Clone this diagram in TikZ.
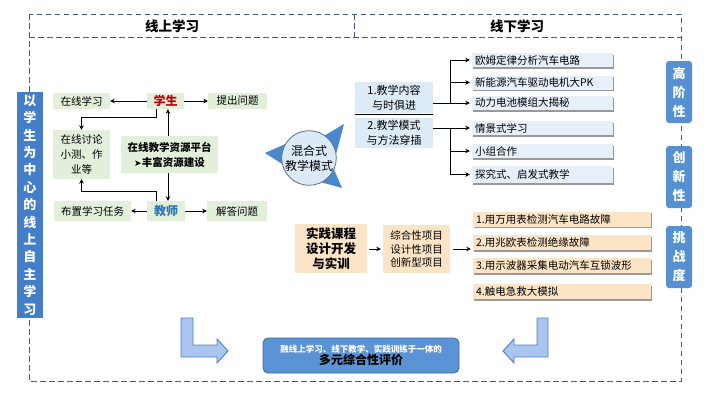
\documentclass[tikz,border=0pt]{standalone}
\usepackage{fontspec}
\setmainfont{Noto Sans CJK SC}
\newfontfamily\djv{DejaVu Sans}
\usetikzlibrary{calc,shadows,backgrounds,arrows.meta}
\definecolor{xuxian}{HTML}{3F5E82}
\definecolor{lvse}{HTML}{E2EFDA}
\definecolor{hong}{HTML}{C00000}
\definecolor{lanzi}{HTML}{2E75B6}
\definecolor{lanqian}{HTML}{E7EFF9}
\definecolor{lanfang}{HTML}{DDEBF7}
\definecolor{cheng}{HTML}{FCE4C6}
\definecolor{shenlan}{HTML}{447DC8}
\definecolor{celan}{HTML}{5690D0}
\definecolor{yuanse}{HTML}{DCEAF7}
\definecolor{yuanbian}{HTML}{5B6F8A}
\definecolor{jian}{HTML}{4A88CC}
\definecolor{pjse}{HTML}{5B94D5}
\definecolor{pjbian}{HTML}{3D6B9E}
\definecolor{wanjian}{HTML}{AAC5EE}
\definecolor{wanbian}{HTML}{4F7FC0}
\tikzset{
  kuang/.style={dash pattern=on 5.5pt off 3.5pt, draw=xuxian, line width=1pt},
  jt/.style={-{Stealth[length=4.5pt,width=4.5pt]}, line width=0.9pt},
  lvkuang/.style={fill=lvse, inner sep=0pt, align=center, font=\fontsize{10.5}{15}\selectfont},
  lanfang/.style={fill=lanfang, inner sep=0pt, minimum width=78, align=center, font=\fontsize{11}{15}\selectfont},
  liebiao/.style={fill=lanqian, inner xsep=3pt, inner ysep=0pt, text width=135, minimum height=14, align=left,
    font=\fontsize{10.5}{13}\selectfont, drop shadow={shadow xshift=1pt, shadow yshift=-1.6pt, fill=black!40, opacity=1}},
  chengbiao/.style={liebiao, fill=cheng, text width=172, minimum height=15},
  cekuang/.style={fill=celan, rounded corners=3pt, minimum width=26, minimum height=62, inner sep=0pt,
    text width=16, align=center, text=white, font=\fontsize{13}{19}\selectfont\bfseries},
  wanjt/.style={fill=wanjian, draw=wanbian, line width=0.9pt, line join=miter}
}
\begin{document}
\begin{tikzpicture}[x=1pt,y=-1pt]
\useasboundingbox (0,0) rectangle (720,402);
% frame
\draw[kuang] (29,14) rectangle (681,381);
\draw[kuang] (29,37) -- (681,37);
\draw[kuang] (354,14) -- (354,37);
\node[font=\fontsize{13.5}{16}\selectfont\bfseries] at (172,26) {线上学习};
\node[font=\fontsize{13.5}{16}\selectfont\bfseries] at (517,26) {线下学习};

% side bars
\node[fill=shenlan, minimum width=26, minimum height=226, inner sep=0pt, text width=16, align=center,
  text=white, font=\fontsize{13}{17.4}\selectfont\bfseries] (zz) at (30,205)
  {以\\学\\生\\为\\中\\心\\的\\线\\上\\自\\主\\学\\习};
\node[cekuang] (gjx) at (679,92) {高\\阶\\性};
\node[cekuang] (cxx) at (679,177) {创\\新\\性};
\node[cekuang] (tzd) at (679,257) {挑\\战\\度};

% online part
\node[lvkuang, minimum width=57, minimum height=16] (zxxx) at (81.5,101) {在线学习};
\node[lvkuang, minimum width=37, minimum height=16, text=hong, font=\fontsize{12}{14}\selectfont\bfseries] (xs) at (165.5,101) {学生};
\node[lvkuang, minimum width=59, minimum height=16] (tcwt) at (237.5,101) {提出问题};
\node[lvkuang, minimum width=57, minimum height=49] (tl) at (81.5,154.5) {在线讨论\\小测、作\\业等};
\node[lvkuang, minimum width=97, minimum height=37, font=\fontsize{10.5}{15}\selectfont\bfseries] (pt) at (169.5,154.5)
  {在线教学资源平台\\{\djv\fontsize{9}{10}\selectfont ➤}丰富资源建设};
\node[lvkuang, minimum width=77, minimum height=20] (bz) at (92.5,211) {布置学习任务};
\node[lvkuang, minimum width=38, minimum height=20, text=lanzi, font=\fontsize{12}{14}\selectfont\bfseries] (js) at (166,211) {教师};
\node[lvkuang, minimum width=60, minimum height=20] (jd) at (237,211) {解答问题};
\draw[jt] (xs) -- (zxxx);
\draw[jt] (xs) -- (tcwt);
\draw[jt] ([xshift=-9.5pt]xs.south) -- ++(0,8) -| (tl.north);
\draw[jt] ([xshift=-1.5pt]pt.north) -- ([xshift=-1.5pt]pt.north |- xs.south);
\draw[jt] ([xshift=-1.5pt]pt.south) -- ([xshift=-1.5pt]pt.south |- js.north);
\draw[jt] ([xshift=-10pt]js.north) -- ++(0,-9) -| (tl.south);
\draw[jt] (js) -- (bz);
\draw[jt] (js) -- (jd);

% blended mode
\node[circle, fill=yuanse, draw=yuanbian, line width=0.8pt, minimum size=53, inner sep=0pt, align=center,
  font=\fontsize{12}{15}\selectfont] (hm) at (309,158) {混合式\\教学模式};
\begin{scope}[on background layer]
  \fill[jian] (hm.10) -- (344,124) -- (hm.55) -- cycle;
  \fill[jian] (hm.150) -- (265,153) -- (hm.192) -- cycle;
  \fill[jian] (hm.-25) -- (342,188) -- (hm.-62) -- cycle;
\end{scope}

% offline part
\node[lanfang, minimum height=31] (n1) at (394,97.5) {1.教学内容\\与时俱进};
\node[lanfang, minimum height=30] (n2) at (394,133) {2.教学模式\\与方法穿插};
\draw[line width=1.1pt] ([yshift=-1.5pt]n1.south west) -- ([yshift=-1.5pt]n1.south east);
\node[liebiao] (a1) at (542.5,60) {欧姆定律分析汽车电路};
\node[liebiao] (a2) at (542.5,82.5) {新能源汽车驱动电机大PK};
\node[liebiao] (a3) at (542.5,103) {动力电池模组大揭秘};
\node[liebiao] (b1) at (542.5,128) {情景式学习};
\node[liebiao] (b2) at (542.5,151) {小组合作};
\node[liebiao, minimum height=17] (b3) at (542.5,174.5) {探究式、启发式教学};
\coordinate (j1) at (450,100);
\draw[line width=0.9pt] (n1.east |- a3.west) -- (j1 |- a3.west);
\draw[jt, shorten >=2pt] (j1 |- a3.west) |- (a1.west);
\draw[jt, shorten >=2pt] (j1 |- a3.west) -- (a3.west);
\draw[jt, shorten >=2pt] (j1 |- a2.west) -- (a2.west);
\draw[line width=0.9pt] (n2.east |- b1.west) -- (j1 |- b1.west);
\draw[jt, shorten >=2pt] (j1 |- b1.west) |- (b3.west);
\draw[jt, shorten >=2pt] (j1 |- b1.west) -- (b1.west);
\draw[jt, shorten >=2pt] (j1 |- b2.west) -- (b2.west);

% practice part
\node[fill=cheng, minimum width=72, minimum height=49, inner sep=0pt, align=center,
  font=\fontsize{12.5}{15}\selectfont\bfseries] (sj) at (331,248.5) {实践课程\\设计开发\\与实训};
\node[fill=cheng, minimum width=67, minimum height=48, inner sep=0pt, align=center,
  font=\fontsize{10.5}{13.5}\selectfont] (zh) at (416.5,249) {综合性项目\\设计性项目\\创新型项目};
\node[chengbiao] (c1) at (562,219) {1.用万用表检测汽车电路故障};
\node[chengbiao] (c2) at (562,242.5) {2.用兆欧表检测绝缘故障};
\node[chengbiao] (c3) at (562,265.5) {3.用示波器采集电动汽车互锁波形};
\node[chengbiao] (c4) at (562,291.5) {4.触电急救大模拟};
\draw[jt, shorten <=2pt, shorten >=2pt] (sj.east |- zh.west) -- (zh.west);
\draw[jt, shorten <=3pt, shorten >=2pt] (zh.east) -- (zh.east -| c2.west);

% evaluation
\draw[wanjt] (181,318) -- (193,318) -- (193,345) -- (217,345) -- (217,339) -- (228,351)
  -- (217,363) -- (217,357) -- (181,357) -- cycle;
\draw[wanjt] (548,318) -- (537,318) -- (537,345) -- (514,345) -- (514,339) -- (503,351)
  -- (514,363) -- (514,357) -- (548,357) -- cycle;
\node[fill=pjse, draw=pjbian, line width=0.8pt, rounded corners=5pt, minimum width=196, minimum height=35,
  inner sep=0pt, align=center] (pj) at (361,355.5)
  {{\fontsize{8.5}{11}\selectfont\bfseries\color{white}融线上学习、线下教学、实践训练于一体的}\\
   {\fontsize{12}{15}\selectfont\bfseries 多元综合性评价}};
\end{tikzpicture}
\end{document}
